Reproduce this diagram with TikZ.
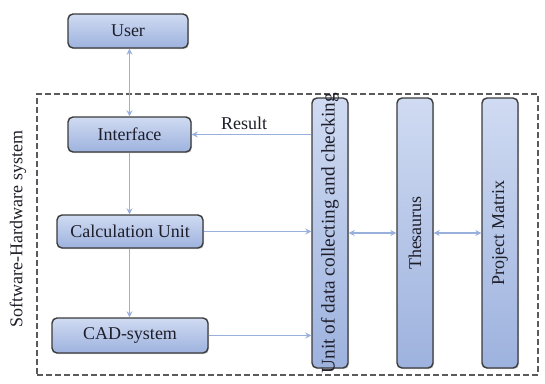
\documentclass[tikz,border=0pt]{standalone}
\usepackage{fontspec}
\setmainfont{Liberation Serif}
\usetikzlibrary{arrows.meta,shadows}
\definecolor{boxtop}{HTML}{D0DBF2}
\definecolor{boxbot}{HTML}{9DB2DE}
\definecolor{boxline}{HTML}{3A3A3A}
\definecolor{arr}{HTML}{9AB0DC}
\definecolor{txt}{HTML}{1E1E2A}
\definecolor{dash}{HTML}{5A5A5A}
\tikzset{
  blockbox/.style={draw=boxline, line width=1.4pt, rounded corners=5pt,
    top color=boxtop, bottom color=boxbot,
    drop shadow={shadow xshift=1pt, shadow yshift=-1.2pt, opacity=0.35},
    text=txt, font=\fontsize{18}{20}\selectfont, inner sep=0pt},
  lbl/.style={text=txt, font=\fontsize{18}{20}\selectfont, inner sep=0pt},
  conn/.style={draw=arr, line width=1.1pt, -{Stealth[length=6pt,width=6pt]}},
  biconn/.style={draw=arr, line width=1.1pt, {Stealth[length=6pt,width=6pt]}-{Stealth[length=6pt,width=6pt]}},
  frame/.style={draw=dash, line width=1.2pt, dash pattern=on 6pt off 3pt}
}
\begin{document}
\begin{tikzpicture}[x=1pt,y=-1pt]
\useasboundingbox (0,0) rectangle (545,383);
\node[frame, minimum width=501pt, minimum height=281pt, inner sep=0pt] (frame) at (287.5,234.5) {};
\node[blockbox, minimum width=120pt, minimum height=34pt] (user) at (128,31) {User};
\node[blockbox, minimum width=123pt, minimum height=35pt] (iface) at (129.5,134.5) {Interface};
\node[blockbox, minimum width=146pt, minimum height=33pt] (calc) at (130,231.5) {Calculation Unit};
\node[blockbox, minimum width=156pt, minimum height=35pt] (cad) at (130,335.5) {CAD-system};
\node[blockbox, minimum width=36pt, minimum height=270pt] (unit) at (330,233) {};
\node[blockbox, minimum width=36pt, minimum height=270pt] (thes) at (415,233) {};
\node[blockbox, minimum width=36pt, minimum height=270pt] (pm) at (500,233) {};
\node[lbl, rotate=90, font=\fontsize{19.3}{21}\selectfont] (unitlbl) at (unit) {Unit of data collecting and checking};
\node[lbl, rotate=90] (theslbl) at (thes) {Thesaurus};
\node[lbl, rotate=90] (pmlbl) at (pm) {Project Matrix};
\node[lbl, rotate=90] (side) at (18,229) {Software-Hardware system};
\node[lbl] (result) at (244,123) {Result};
\draw[biconn] (iface.north |- user.south) -- (iface.north);
\draw[conn] (iface.south) -- (iface.south |- calc.north);
\draw[conn] (iface.south |- calc.south) -- (iface.south |- cad.north);
\draw[conn] (unit.west |- iface.east) -- (iface.east);
\draw[conn] (calc.east) -- (calc.east -| unit.west);
\draw[conn] (cad.east) -- (cad.east -| unit.west);
\draw[biconn] (unit.east) -- (thes.west);
\draw[biconn] (thes.east) -- (pm.west);
\end{tikzpicture}
\end{document}
